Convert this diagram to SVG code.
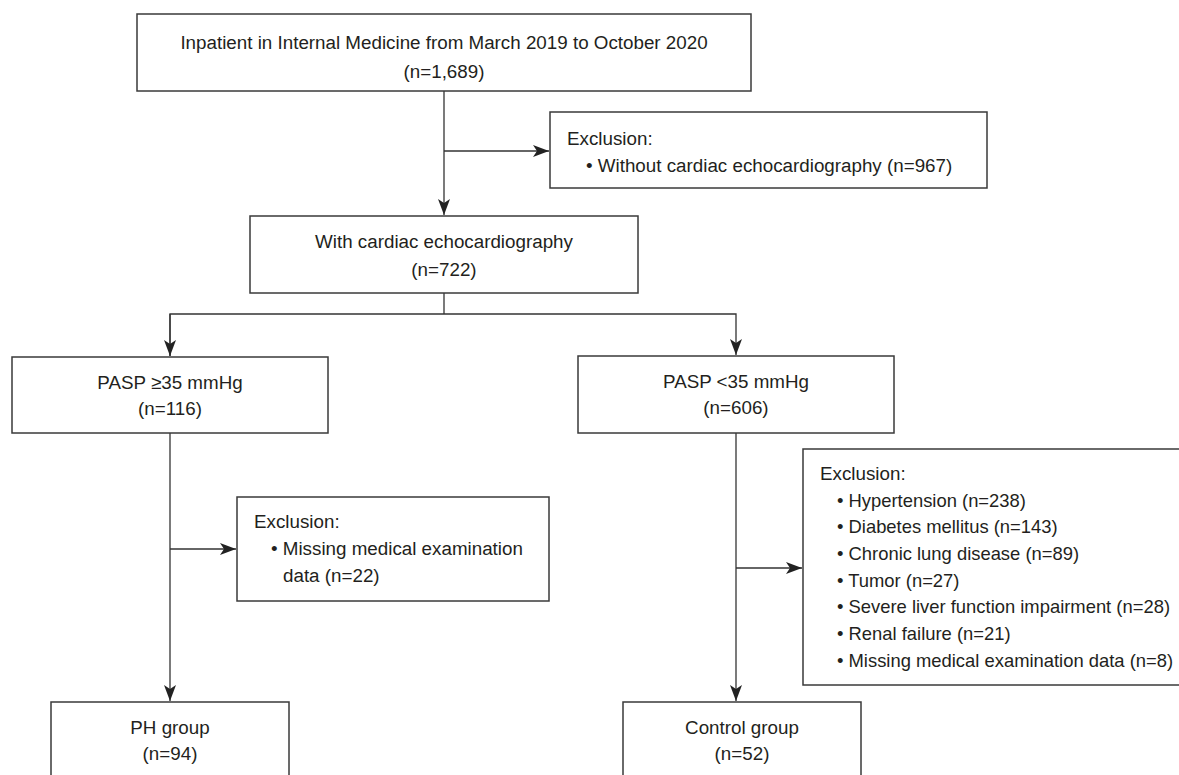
<svg xmlns="http://www.w3.org/2000/svg" width="1179" height="775" viewBox="0 0 1179 775">
<style>
.box{fill:#fff;stroke:#3a3a3a;stroke-width:1.5}
.ln{fill:none;stroke:#333;stroke-width:1.3}
text{font-family:"Liberation Sans",Arial,sans-serif;font-size:18.8px;fill:#231f20}
.c{text-anchor:middle}
.s{font-size:18.4px}
</style>
<defs>
<marker id="ah" markerUnits="userSpaceOnUse" markerWidth="18" markerHeight="14" refX="16" refY="6" orient="auto">
<path d="M0,0 L16,6 L0,12 L4,6 z" fill="#222"/>
</marker>
</defs>
<rect width="1179" height="775" fill="#fff"/>
<g id="connectors">
<line class="ln" x1="444" y1="91" x2="444" y2="215" marker-end="url(#ah)"/>
<line class="ln" x1="444" y1="151" x2="549" y2="151" marker-end="url(#ah)"/>
<polyline class="ln" points="444,293 444,314"/>
<polyline class="ln" points="170,356 170,314 736,314 736,355" marker-end="url(#ah)"/>
<line class="ln" x1="170" y1="314" x2="170" y2="356" marker-end="url(#ah)"/>
<line class="ln" x1="170" y1="433" x2="170" y2="701" marker-end="url(#ah)"/>
<line class="ln" x1="170" y1="549" x2="236" y2="549" marker-end="url(#ah)"/>
<line class="ln" x1="736" y1="433" x2="736" y2="701" marker-end="url(#ah)"/>
<line class="ln" x1="736" y1="568" x2="802" y2="568" marker-end="url(#ah)"/>
</g>
<g id="n-inpatient">
<rect class="box" x="137" y="14" width="614" height="77"/>
<text class="c" x="444" y="49">Inpatient in Internal Medicine from March 2019 to October 2020</text>
<text class="c" x="444" y="78">(n=1,689)</text>
</g>
<g id="n-excl1">
<rect class="box" x="550" y="112" width="437" height="76"/>
<text x="567" y="145">Exclusion:</text>
<text x="586" y="172">• Without cardiac echocardiography (n=967)</text>
</g>
<g id="n-with">
<rect class="box" x="250" y="216" width="388" height="77"/>
<text class="c" x="444" y="248">With cardiac echocardiography</text>
<text class="c" x="444" y="276">(n=722)</text>
</g>
<g id="n-pasp-high">
<rect class="box" x="12" y="357" width="316" height="76"/>
<text class="c" x="170" y="389">PASP ≥35 mmHg</text>
<text class="c" x="170" y="415">(n=116)</text>
</g>
<g id="n-pasp-low">
<rect class="box" x="578" y="356" width="316" height="77"/>
<text class="c" x="736" y="388">PASP &lt;35 mmHg</text>
<text class="c" x="736" y="414">(n=606)</text>
</g>
<g id="n-excl2">
<rect class="box" x="237" y="497" width="312" height="104"/>
<text x="254" y="528">Exclusion:</text>
<text x="271" y="555">• Missing medical examination</text>
<text x="283" y="582">data (n=22)</text>
</g>
<g id="n-excl3">
<rect class="box" x="803" y="449" width="390" height="236"/>
<text x="820" y="480">Exclusion:</text>
<text class="s" x="837" y="507">• Hypertension (n=238)</text>
<text class="s" x="837" y="533">• Diabetes mellitus (n=143)</text>
<text class="s" x="837" y="560">• Chronic lung disease (n=89)</text>
<text class="s" x="837" y="587">• Tumor (n=27)</text>
<text class="s" x="837" y="613">• Severe liver function impairment (n=28)</text>
<text class="s" x="837" y="640">• Renal failure (n=21)</text>
<text class="s" x="837" y="667">• Missing medical examination data (n=8)</text>
</g>
<g id="n-ph">
<rect class="box" x="51" y="702" width="238" height="90"/>
<text class="c" x="170" y="734">PH group</text>
<text class="c" x="170" y="760">(n=94)</text>
</g>
<g id="n-control">
<rect class="box" x="623" y="702" width="238" height="90"/>
<text class="c" x="742" y="734">Control group</text>
<text class="c" x="742" y="760">(n=52)</text>
</g>
</svg>
